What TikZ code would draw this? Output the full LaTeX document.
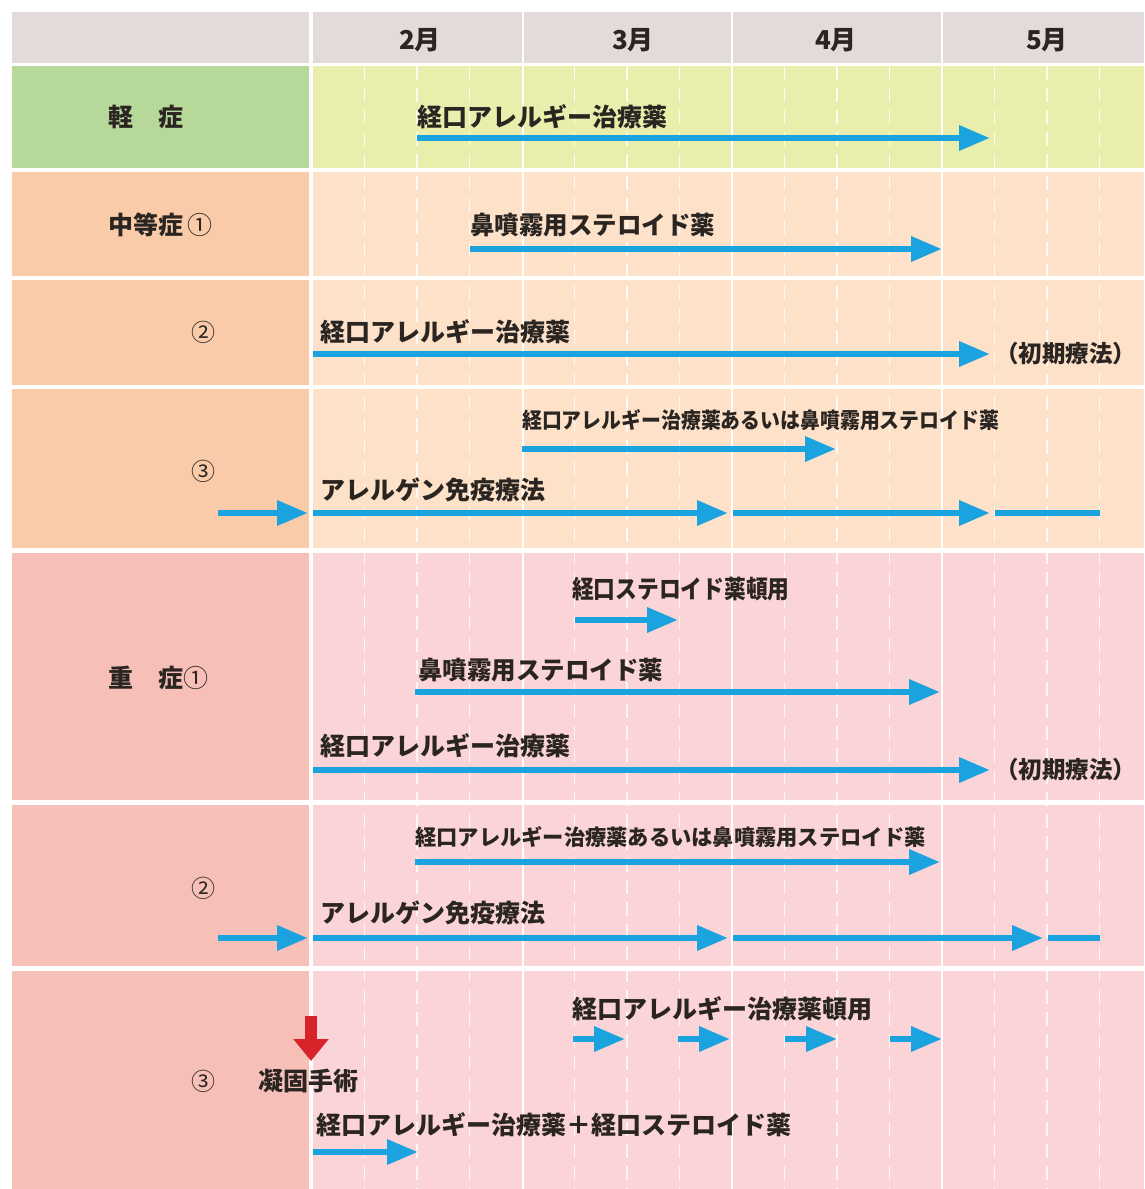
\documentclass[tikz,border=0pt]{standalone}
\usepackage{fontspec}
\setmainfont{Noto Sans CJK JP}
\usetikzlibrary{arrows.meta}
\definecolor{hdr}{HTML}{E3DBDA}
\definecolor{gL}{HTML}{B6D898}
\definecolor{gR}{HTML}{E9EEAC}
\definecolor{oL}{HTML}{F9CBA9}
\definecolor{oR}{HTML}{FDE1C8}
\definecolor{pL}{HTML}{F6BFB8}
\definecolor{pR}{HTML}{FAD4D6}
\definecolor{txt}{HTML}{2B2522}
\definecolor{ablue}{HTML}{1AA3DF}
\definecolor{ared}{HTML}{D9232A}
\newcommand{\sx}[2]{\scalebox{#1}[1]{#2}}
\begin{document}
\begin{tikzpicture}[x=1pt,y=-1pt,
  tx/.style={anchor=west,inner sep=0pt,text=txt,font=\fontsize{25}{30}\selectfont\bfseries},
  stx/.style={anchor=west,inner sep=0pt,text=txt,font=\fontsize{21.7}{26}\selectfont\bfseries},
  ptx/.style={anchor=west,inner sep=0pt,text=txt,font=\fontsize{23.5}{28}\selectfont\bfseries},
  mon/.style={inner sep=0pt,text=txt,font=\fontsize{26}{30}\selectfont\bfseries},
  num/.style={inner sep=0pt,text=txt,font=\fontsize{24}{28}\selectfont},
  bar/.style={draw=ablue,line width=6.5pt,-{Triangle[length=31pt,width=24pt]}},
  plainbar/.style={draw=ablue,line width=6.5pt},
  redarr/.style={draw=ared,line width=12pt,-{Triangle[length=22pt,width=34pt]}},
  grid/.style={draw=white,line width=1.3pt,dash pattern=on 14pt off 8pt,opacity=0.8},
  sep/.style={draw=white,line width=2.6pt}
]
\useasboundingbox (0,0) rectangle (1144,1189);
\fill[white] (0,0) rectangle (1144,1189);
% header
\fill[hdr] (12,12) rectangle (309,63);
\fill[hdr] (313,12) rectangle (1144,63);
% rows
\fill[gL] (12,66) rectangle (309,168);   \fill[gR] (313,66) rectangle (1144,168);
\fill[oL] (12,172) rectangle (309,276);  \fill[oR] (313,172) rectangle (1144,276);
\fill[oL] (12,280) rectangle (309,385);  \fill[oR] (313,280) rectangle (1144,385);
\fill[oL] (12,389) rectangle (309,548);  \fill[oR] (313,389) rectangle (1144,548);
\fill[pL] (12,553) rectangle (309,800);  \fill[pR] (313,553) rectangle (1144,800);
\fill[pL] (12,805) rectangle (309,966);  \fill[pR] (313,805) rectangle (1144,966);
\fill[pL] (12,971) rectangle (309,1189); \fill[pR] (313,971) rectangle (1144,1189);
% dashed week lines
\foreach \x in {364.5,417,469.5,574.5,627,679.5,784.5,837,889.5,994.5,1047,1099.5}
  \draw[grid] (\x,66) -- (\x,1189);
% month separators
\foreach \x in {523,732,942}
  \draw[sep] (\x,12) -- (\x,1189);
% header labels
\node[mon] (m2) at (420,40) {2月};
\node[mon] (m3) at (633,40) {3月};
\node[mon] (m4) at (836,40) {4月};
\node[mon] (m5) at (1047,40) {5月};
% left labels
\node[tx] (l1) at (108,117) {軽　症};
\node[tx] (l2) at (108,225) {中等症\,\textmd{①}};
\node[num] (l3) at (203,332) {②};
\node[num] (l4) at (203,471) {③};
\node[tx] (l5) at (108,678) {重　症\textmd{①}};
\node[num] (l6) at (203,888) {②};
\node[num] (l7) at (203,1081) {③};
% row 1
\node[tx] (t1) at (417,117) {経口アレルギー治療薬};
\coordinate (a1s) at (417,138); \coordinate (a1e) at (990,138);
\draw[bar] (a1s) -- (a1e);
% row 2
\node[tx] (t2) at (470,225) {\sx{0.98}{鼻噴霧用ステロイド薬}};
\coordinate (a2s) at (470,249); \coordinate (a2e) at (942,249);
\draw[bar] (a2s) -- (a2e);
% row 3
\node[tx] (t3) at (320,332) {経口アレルギー治療薬};
\coordinate (a3s) at (313,354); \coordinate (a3e) at (990,354);
\draw[bar] (a3s) -- (a3e);
\node[ptx] (p3) at (995,354) {（初期療法）};
% row 4
\node[stx] (t4a) at (522,420) {\sx{0.916}{経口アレルギー治療薬あるいは鼻噴霧用ステロイド薬}};
\coordinate (a4s) at (522,449); \coordinate (a4e) at (836,449);
\draw[bar] (a4s) -- (a4e);
\node[tx] (t4b) at (320,490) {アレルゲン免疫療法};
\coordinate (b4a) at (218,513); \coordinate (b4b) at (308,513);
\coordinate (b4c) at (313,513); \coordinate (b4d) at (728,513);
\coordinate (b4e) at (733,513); \coordinate (b4f) at (990,513);
\coordinate (b4g) at (995,513); \coordinate (b4h) at (1100,513);
\draw[bar] (b4a) -- (b4b);
\draw[bar] (b4c) -- (b4d);
\draw[bar] (b4e) -- (b4f);
\draw[plainbar] (b4g) -- (b4h);
% row 5
\node[tx] (t5a) at (572,589) {\sx{0.87}{経口ステロイド薬頓用}};
\coordinate (a5s) at (575,620); \coordinate (a5e) at (678,620);
\draw[bar] (a5s) -- (a5e);
\node[tx] (t5b) at (418,670) {\sx{0.98}{鼻噴霧用ステロイド薬}};
\coordinate (b5s) at (415,692); \coordinate (b5e) at (940,692);
\draw[bar] (b5s) -- (b5e);
\node[tx] (t5c) at (320,746) {経口アレルギー治療薬};
\coordinate (c5s) at (313,770); \coordinate (c5e) at (990,770);
\draw[bar] (c5s) -- (c5e);
\node[ptx] (p5) at (995,770) {（初期療法）};
% row 6
\node[stx] (t6a) at (415,837) {\sx{0.98}{経口アレルギー治療薬あるいは鼻噴霧用ステロイド薬}};
\coordinate (a6s) at (415,862); \coordinate (a6e) at (940,862);
\draw[bar] (a6s) -- (a6e);
\node[tx] (t6b) at (320,913) {アレルゲン免疫療法};
\coordinate (b6a) at (218,938); \coordinate (b6b) at (308,938);
\coordinate (b6c) at (313,938); \coordinate (b6d) at (728,938);
\coordinate (b6e) at (733,938); \coordinate (b6f) at (1043,938);
\coordinate (b6g) at (1048,938); \coordinate (b6h) at (1100,938);
\draw[bar] (b6a) -- (b6b);
\draw[bar] (b6c) -- (b6d);
\draw[bar] (b6e) -- (b6f);
\draw[plainbar] (b6g) -- (b6h);
% row 7
\node[tx] (t7a) at (572,1009) {経口アレルギー治療薬頓用};
\foreach \s/\e [count=\i] in {573/625,678/730,785/837,890/942}{
  \coordinate (s7\i) at (\s,1039); \coordinate (e7\i) at (\e,1039);
  \draw[bar] (s7\i) -- (e7\i);
}
\coordinate (rs) at (311,1016); \coordinate (re) at (311,1061);
\draw[redarr] (rs) -- (re);
\node[tx] (t7b) at (258,1081) {凝固手術};
\node[tx] (t7c) at (316,1125) {経口アレルギー治療薬＋経口ステロイド薬};
\coordinate (a7s) at (313,1152); \coordinate (a7e) at (418,1152);
\draw[bar] (a7s) -- (a7e);
\end{tikzpicture}
\end{document}
